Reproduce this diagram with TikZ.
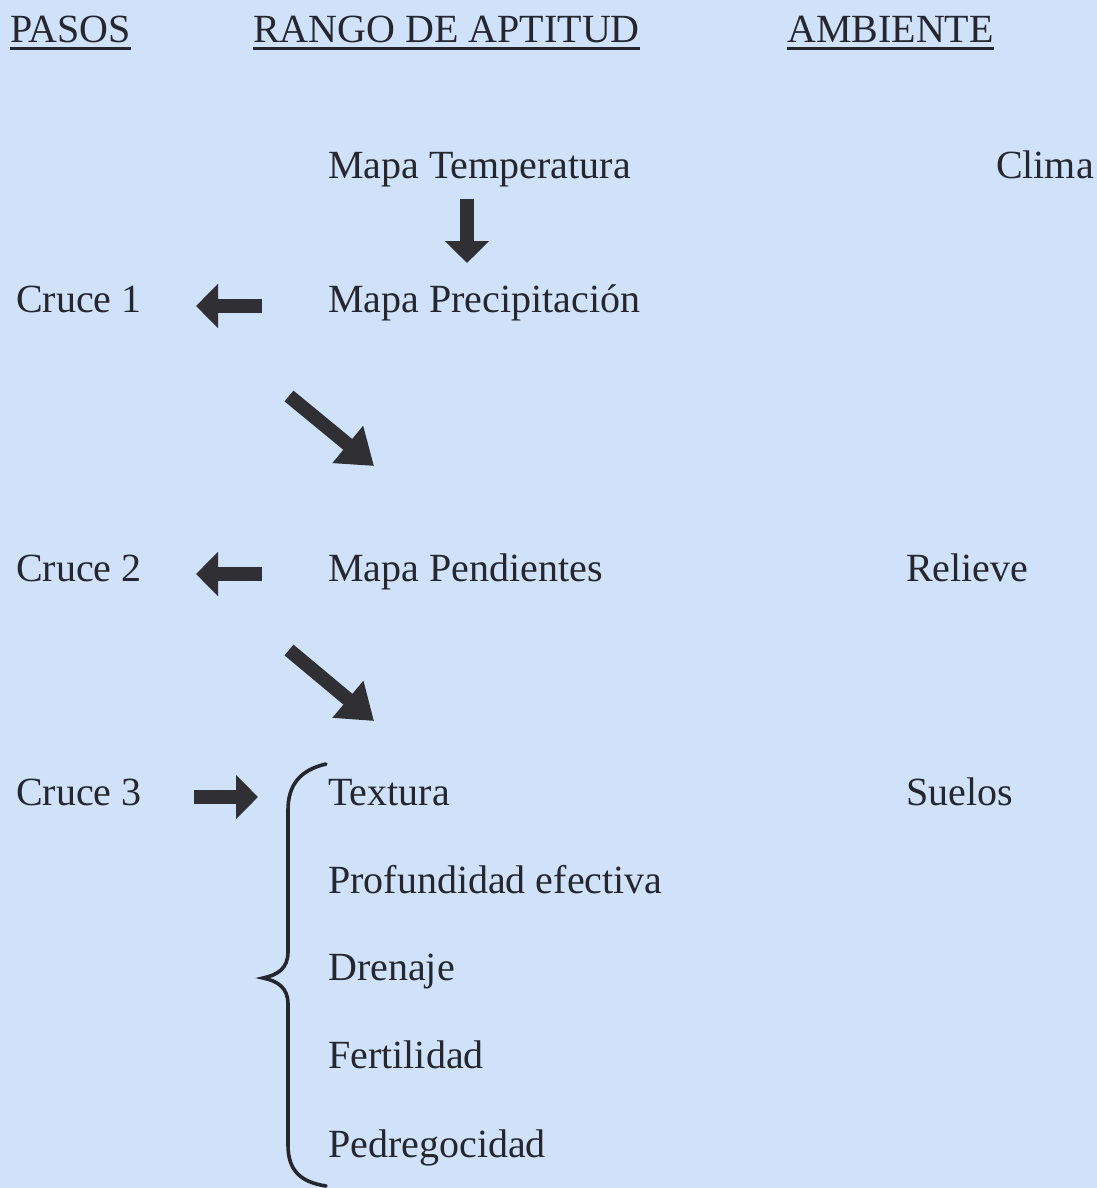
\documentclass[tikz,border=0pt]{standalone}
\usepackage{fontspec}
\setmainfont{Liberation Serif}
\usepackage{xcolor}
\usetikzlibrary{arrows.meta,positioning,calc}
\definecolor{fondo}{RGB}{207,226,249}
\definecolor{tinta}{RGB}{38,38,46}
\definecolor{flecha}{RGB}{48,48,52}

\tikzset{
  txt/.style={anchor=base west, inner sep=0pt, text=tinta, font=\fontsize{40}{42}\selectfont},
  encab/.style={txt},
  subr/.style={draw=tinta, line width=2.6pt},
  blockarr/.style={draw=flecha, line width=14pt, -{Triangle[length=22pt,width=43pt]}},
  diagarr/.style={draw=flecha, line width=14pt, -{Triangle[length=34pt,width=46pt]}},
  llave/.style={draw=tinta, line width=3.6pt, line cap=round}
}

\begin{document}
\begin{tikzpicture}[x=1pt,y=-1pt]
    \useasboundingbox[fill=fondo] (0,0) rectangle (1097,1188);

    % encabezados
    \node[encab] (pasos) at (10,43) {PASOS};
    \node[encab] (rango) at (253,43) {RANGO DE APTITUD};
    \node[encab] (amb) at (787,43) {AMBIENTE};
    \draw[subr] ([yshift=-5pt]pasos.south west) -- ([yshift=-5pt]pasos.south east);
    \draw[subr] ([yshift=-5pt]rango.south west) -- ([yshift=-5pt]rango.south east);
    \draw[subr] ([yshift=-5pt]amb.south west) -- ([yshift=-5pt]amb.south east);

    % columna central
    \node[txt] (temp) at (328,178) {Mapa Temperatura};
    \node[txt] (prec) at (328,312) {Mapa Precipitación};
    \node[txt] (pend) at (328,581) {Mapa Pendientes};
    \node[txt] (text) at (328,805) {Textura};
    \node[txt] (prof) at (328,893) {Profundidad efectiva};
    \node[txt] (dren) at (328,980) {Drenaje};
    \node[txt] (fert) at (328,1068) {Fertilidad};
    \node[txt] (pedr) at (328,1157) {Pedregocidad};

    % pasos
    \node[txt] (c1) at (16,312) {Cruce 1};
    \node[txt] (c2) at (16,581) {Cruce 2};
    \node[txt] (c3) at (16,805) {Cruce 3};

    % ambiente
    \node[txt, anchor=base east] (clima) at (1094,178) {Clima};
    \node[txt] (relieve) at (906,581) {Relieve};
    \node[txt] (suelos) at (906,805) {Suelos};

    % flechas
    \coordinate (f1a) at (467,199);
    \coordinate (f1b) at (467,263);
    \coordinate (f2a) at (262,306);
    \coordinate (f2b) at (196,306);
    \coordinate (f3a) at (289,396);
    \coordinate (f3b) at (374,466);
    \coordinate (f4a) at (262,574);
    \coordinate (f4b) at (196,574);
    \coordinate (f5a) at (289,650);
    \coordinate (f5b) at (374,721);
    \coordinate (f6a) at (194,797);
    \coordinate (f6b) at (258,797);
    \foreach \a/\b in {f1a/f1b, f2a/f2b, f4a/f4b, f6a/f6b}
        \draw[blockarr] (\a) -- (\b);
    \foreach \a/\b in {f3a/f3b, f5a/f5b}
        \draw[diagarr] (\a) -- (\b);

    % llave
    \draw[llave] (326,764) .. controls (300,770) and (288,785) .. (288,810)
        -- (288,952) .. controls (288,968) and (278,975) .. (263,978)
        .. controls (278,981) and (288,988) .. (288,1004)
        -- (288,1145) .. controls (288,1170) and (300,1182) .. (326,1186);
\end{tikzpicture}
\end{document}
